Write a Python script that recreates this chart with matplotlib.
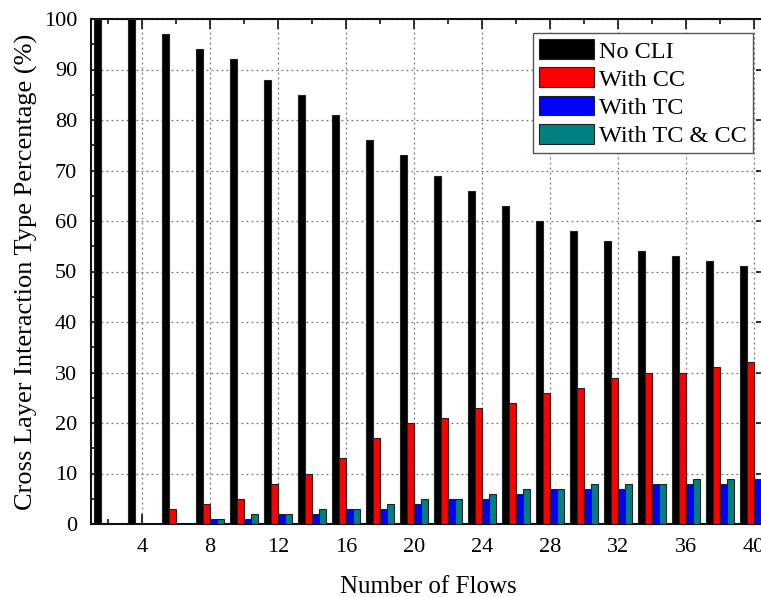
import matplotlib
matplotlib.use("Agg")
import matplotlib.pyplot as plt
import numpy as np
from matplotlib.ticker import MultipleLocator

flows = [2, 4, 6, 8, 10, 12, 14, 16, 18, 20, 22, 24, 26, 28, 30, 32, 34, 36, 38, 40]
no_cli = [100, 100, 97, 94, 92, 88, 85, 81, 76, 73, 69, 66, 63, 60, 58, 56, 54, 53, 52, 51]
with_cc = [0, 0, 3, 4, 5, 8, 10, 13, 17, 20, 21, 23, 24, 26, 27, 29, 30, 30, 31, 32]
with_tc = [0, 0, 0, 1, 1, 2, 2, 3, 3, 4, 5, 5, 6, 7, 7, 7, 8, 8, 8, 9]
with_tc_cc = [0, 0, 0, 1, 2, 2, 3, 3, 4, 5, 5, 6, 7, 7, 8, 8, 8, 9, 9, 9]
series_names = ["No CLI", "With CC", "With TC", "With TC & CC"]
colors = ["#000000", "#FF0000", "#0000FF", "#008080"]

plt.rcParams['font.family'] = ['Liberation Serif', 'DejaVu Serif']

fig = plt.figure(figsize=(7.61, 5.97), dpi=100)
ax = fig.add_axes([91/761, 73/597, 675/761, 505/597])

x = np.array(flows, dtype=float)
w = 0.4
offsets = [-0.6, -0.2, 0.2, 0.6]
for vals, name, c, off in zip([no_cli, with_cc, with_tc, with_tc_cc], series_names, colors, offsets):
    ax.bar(x + off, vals, width=w, color=c, edgecolor="#222222", linewidth=0.8,
           label=name, zorder=3)

ax.set_xlim(1.0, 40.7)
ax.set_ylim(0, 100)
ax.xaxis.set_major_locator(MultipleLocator(4))
ax.xaxis.set_minor_locator(MultipleLocator(2))
ax.yaxis.set_major_locator(MultipleLocator(10))
ax.yaxis.set_minor_locator(MultipleLocator(5))
ax.tick_params(which='both', direction='in', top=True, right=True, labelsize=16, color='#111111')
ax.tick_params(which='major', length=7, width=1.2)
ax.tick_params(which='minor', length=3.6, width=1.2)
ax.tick_params(axis='x', which='major', pad=10)
ax.tick_params(axis='y', which='major', pad=10)
ax.grid(True, which='major', linestyle=(0, (1.5, 2.5)), color='#777777', linewidth=0.9, zorder=0)
ax.set_axisbelow(True)
for s in ax.spines.values():
    s.set_linewidth(1.5)
    s.set_color('#111111')

ax.set_xlabel("Number of Flows", fontsize=18, labelpad=14)
ax.set_ylabel("Cross Layer Interaction Type Percentage (%)", fontsize=19, labelpad=4)

leg = ax.legend(loc='upper right', bbox_to_anchor=(0.981, 0.972), fontsize=17.5,
                frameon=True, fancybox=False, edgecolor='#555555', framealpha=1,
                handlelength=2.3, handleheight=0.88, handletextpad=0.2, borderpad=0.25,
                labelspacing=0.2, borderaxespad=0)
leg.get_frame().set_linewidth(1.0)

fig.savefig("out.png", dpi=100)
